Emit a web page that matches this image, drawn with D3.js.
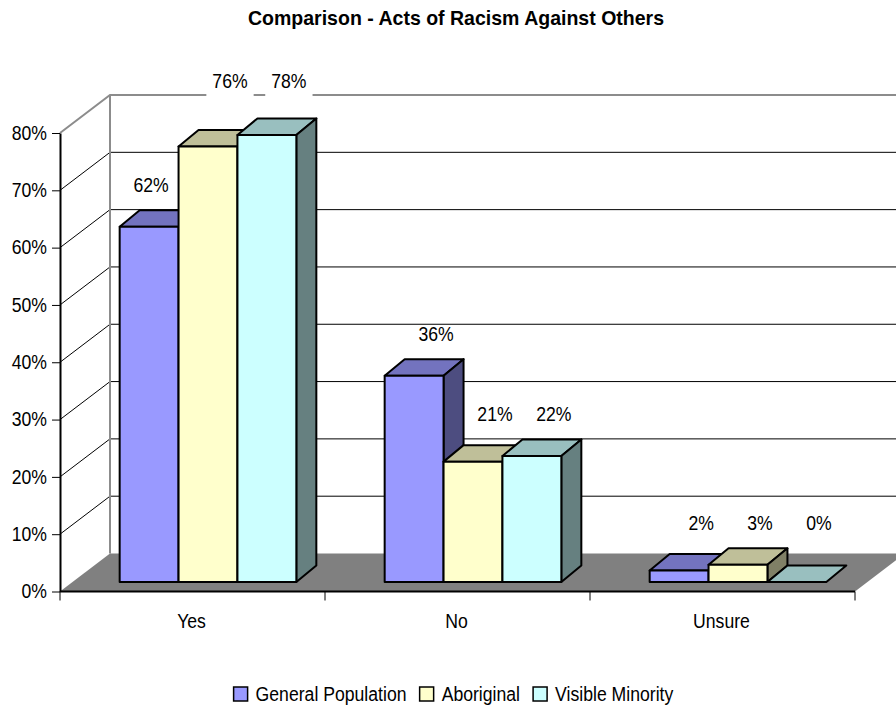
<!DOCTYPE html>
<html>
<head>
<meta charset="utf-8">
<script src="https://cdn.jsdelivr.net/npm/d3@7/dist/d3.min.js"></script>
<style>
  html, body { margin: 0; padding: 0; background: #fff; }
  svg text { font-family: "Liberation Sans", Arial, sans-serif; fill: #000; }
</style>
</head>
<body>
<svg id="chart" width="896" height="709"></svg>
<script>
// Survey answers per group, in percent
const categories = ["Yes", "No", "Unsure"];
const seriesNames = ["General Population", "Aboriginal", "Visible Minority"];
const generalPopulation = [62, 36, 2];
const aboriginal = [76, 21, 3];
const visibleMinority = [78, 22, 0];
const yTicks = [0, 10, 20, 30, 40, 50, 60, 70, 80];
const chartTitle = "Comparison - Acts of Racism Against Others";

const seriesValues = [generalPopulation, aboriginal, visibleMinority];
const frontColors = ["#9999FF", "#FFFFCC", "#CCFFFF"];
const topColors   = ["#7373BF", "#BFBF99", "#99BFBF"];
const sideColors  = ["#4D4D80", "#808066", "#668080"];

// Condensed lettering: text is drawn with a horizontal squeeze
const NARROW = 0.84;
function squeeze(sel, sx) {
  sel.each(function () {
    const t = d3.select(this);
    const tx = +t.attr("x") || 0, ty = +t.attr("y") || 0;
    t.attr("x", 0).attr("y", 0).attr("transform", `translate(${tx},${ty}) scale(${sx},1)`);
  });
}

const svg = d3.select("#chart");

// Plot frame: front plane, plus the oblique depth of the walls
const plotLeft = 60, plotRight = 855, plotBottom = 591.5, plotTop = 133;
const wall = { x: 50, y: -38 };          // depth of side wall / floor
const slabFront = { x: 15.5, y: -9.5 };  // bar front face offset
const slabBack  = { x: 35.5, y: -26 };   // bar back face offset

const y = d3.scaleLinear().domain([0, 80]).range([plotBottom, plotTop]);
const x0 = d3.scaleBand().domain(categories).range([plotLeft, plotRight]).paddingInner(0).paddingOuter(0);
const x1 = d3.scaleBand().domain(seriesNames).range([0, x0.bandwidth()]).paddingInner(0).paddingOuter(0.75);

// Title
svg.append("text")
  .attr("x", 456).attr("y", 25)
  .attr("text-anchor", "middle")
  .style("font-weight", "bold").style("font-size", "21px")
  .text(chartTitle)
  .call(squeeze, 0.93);

const walls = svg.append("g");
const backRight = plotRight + wall.x;

// Gridlines on the back wall and side wall
yTicks.filter(v => v > 0 && v < 80).forEach(v => {
  walls.append("line")
    .attr("x1", plotLeft + wall.x).attr("y1", y(v) + wall.y)
    .attr("x2", backRight).attr("y2", y(v) + wall.y)
    .attr("stroke", "#000").attr("stroke-width", 1);
  walls.append("line")
    .attr("x1", plotLeft).attr("y1", y(v))
    .attr("x2", plotLeft + wall.x).attr("y2", y(v) + wall.y)
    .attr("stroke", "#000").attr("stroke-width", 1);
});

// Wall outline (top edge and back corner)
const yMax = d3.max(yTicks);
const wallTopY = y(yMax) + wall.y;
walls.append("path")
  .attr("d", `M${plotLeft},${y(yMax)} L${plotLeft + wall.x},${wallTopY} L${backRight},${wallTopY}`)
  .attr("fill", "none").attr("stroke", "#8c8c8c").attr("stroke-width", 2);
walls.append("line")
  .attr("x1", plotLeft + wall.x).attr("y1", wallTopY)
  .attr("x2", plotLeft + wall.x).attr("y2", y(0) + wall.y)
  .attr("stroke", "#8c8c8c").attr("stroke-width", 2);

// Floor
walls.append("path")
  .attr("d", `M${plotLeft},${y(0)} L${plotRight},${y(0)} L${backRight},${y(0) + wall.y} L${plotLeft + wall.x},${y(0) + wall.y} Z`)
  .attr("fill", "#808080");

// Y axis
const yAxis = svg.append("g")
  .attr("transform", `translate(${plotLeft},0)`)
  .call(d3.axisLeft(y).tickValues(yTicks).tickFormat(d => d + "%").tickSize(8).tickSizeOuter(0).tickPadding(5));
yAxis.attr("font-family", null).attr("font-size", null);
yAxis.select(".domain").attr("stroke", "#000").attr("stroke-width", 2);
yAxis.selectAll(".tick line").attr("stroke", "#000");
yAxis.selectAll(".tick text")
  .style("font-size", "21px")
  .attr("dy", "0.3em")
  .call(squeeze, NARROW);

// X axis: baseline, boundary ticks, centred category names
const xAxis = svg.append("g");
xAxis.append("line")
  .attr("x1", plotLeft).attr("x2", plotRight).attr("y1", y(0)).attr("y2", y(0))
  .attr("stroke", "#000").attr("stroke-width", 2);
const bounds = categories.map(c => x0(c)).concat([x0(categories[categories.length - 1]) + x0.bandwidth()]);
xAxis.selectAll(".bt").data(bounds).join("line")
  .attr("x1", d => d).attr("x2", d => d)
  .attr("y1", y(0)).attr("y2", y(0) + 9)
  .attr("stroke", "#000").attr("stroke-width", 1);
xAxis.selectAll(".cl").data(categories).join("text")
  .attr("x", d => x0(d) + x0.bandwidth() / 2 - 1)
  .attr("y", 628)
  .attr("text-anchor", "middle")
  .style("font-size", "21px")
  .text(d => d)
  .call(squeeze, NARROW);

// Bars, drawn left to right so each front face hides its neighbour's side
const bars = svg.append("g");
const pt = (p) => p.join(",");
const barLeft = (cat, s) => x0(cat) + x1(s) + slabFront.x;
categories.forEach((cat, ci) => {
  seriesNames.forEach((s, si) => {
    const v = seriesValues[si][ci];
    const xl = x0(cat) + x1(s);
    const xr = xl + x1.bandwidth();
    const yb = y(0), yt = y(v);
    const F = (x, yy) => [x + slabFront.x, yy + slabFront.y];
    const B = (x, yy) => [x + slabBack.x, yy + slabBack.y];
    const g = bars.append("g")
      .attr("stroke", "#000").attr("stroke-width", 2).attr("stroke-linejoin", "round");
    // top face
    g.append("polygon")
      .attr("points", [F(xl, yt), F(xr, yt), B(xr, yt), B(xl, yt)].map(pt).join(" "))
      .attr("fill", topColors[si]);
    if (v > 0) {
      // right side face
      g.append("polygon")
        .attr("points", [F(xr, yt), B(xr, yt), B(xr, yb), F(xr, yb)].map(pt).join(" "))
        .attr("fill", sideColors[si]);
      // front face
      g.append("polygon")
        .attr("points", [F(xl, yt), F(xr, yt), F(xr, yb), F(xl, yb)].map(pt).join(" "))
        .attr("fill", frontColors[si]);
    }
  });
});

// Value labels: above each bar; close neighbours share a baseline,
// a label that would run into a taller neighbour stays over its own bar,
// and a label that would straddle the wall's top edge is lifted above it
const labels = svg.append("g");
categories.forEach((cat, ci) => {
  const vals = seriesValues.map(a => a[ci]);
  const lineY = vals.map(v => y(v) - 44);
  for (let pass = 0; pass < 3; pass++) {
    for (let i = 0; i < vals.length - 1; i++) {
      if (Math.abs(vals[i] - vals[i + 1]) <= 3) {
        const m = Math.min(lineY[i], lineY[i + 1]);
        lineY[i] = m; lineY[i + 1] = m;
      }
    }
  }
  seriesNames.forEach((s, si) => {
    const centre = barLeft(cat, s) + x1.bandwidth() / 2;
    let ly = lineY[si];
    const lifted = ly - 16 < wallTopY;
    if (lifted) ly = wallTopY - 7;
    const next = si + 1 < vals.length ? vals[si + 1] : null;
    const blocked = next !== null && y(next) + slabFront.y < ly;
    const cx = blocked ? centre + 2 : centre + 22;
    const lg = labels.append("g");
    const t = lg.append("text")
      .attr("x", cx).attr("y", ly)
      .attr("text-anchor", "middle")
      .style("font-size", "21px")
      .text(vals[si] + "%");
    const w = t.node().getComputedTextLength() * NARROW;
    t.call(squeeze, NARROW);
    lg.insert("rect", "text")
      .attr("x", cx - w / 2 - 6).attr("y", ly - 15.5)
      .attr("width", w + 12).attr("height", lifted ? 26 : 18)
      .attr("fill", "#fff");
  });
});

// Legend
const legend = svg.append("g");
let lx = 0;
seriesNames.forEach((name, i) => {
  const g = legend.append("g");
  g.append("rect")
    .attr("x", 0).attr("y", -14).attr("width", 14).attr("height", 14)
    .attr("fill", frontColors[i]).attr("stroke", "#000").attr("stroke-width", 1.5);
  const t = g.append("text").attr("x", 22).attr("y", 0).style("font-size", "21px").text(name);
  const w = 22 + t.node().getComputedTextLength() * NARROW;
  t.call(squeeze, NARROW);
  g.attr("transform", `translate(${lx},0)`);
  lx += w + 13;
});
const legendWidth = lx - 13;
legend.attr("transform", `translate(${453.5 - legendWidth / 2},701)`);
</script>
</body>
</html>
